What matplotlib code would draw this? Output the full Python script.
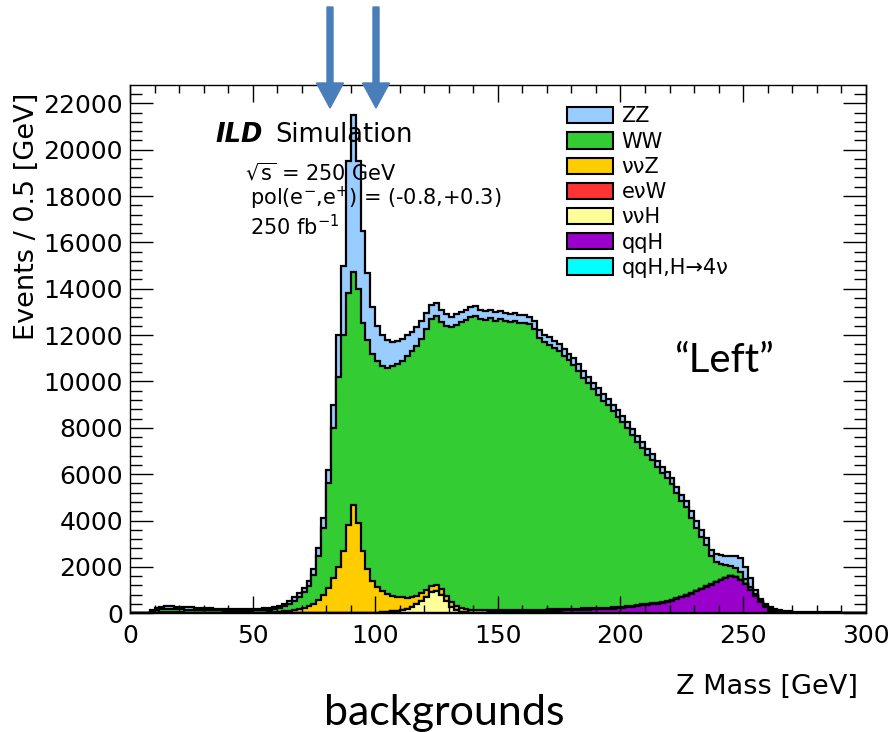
import numpy as np
import matplotlib
matplotlib.use("Agg")
import matplotlib.pyplot as plt
from matplotlib.patches import Patch, FancyArrow
from matplotlib.ticker import MultipleLocator

# ---------------- data (events per 2 GeV bin) ----------------
bin_edges = np.arange(0, 302, 2)  # Z mass bins 0..300 GeV

zz = [0, 0, 0, 0, 50, 90, 110, 120, 115, 110,
      105, 100, 95, 90, 90, 85, 80, 80, 75, 75,
      70, 70, 70, 70, 70, 70, 75, 80, 90, 100,
      110, 120, 130, 140, 160, 180, 200, 250, 320, 420,
      600, 1000, 1800, 3000, 5700, 6800, 5500, 4000, 2900, 2000,
      1500, 1350, 1200, 1050, 1000, 950, 900, 850, 800, 750,
      700, 620, 560, 520, 500, 470, 450, 440, 430, 420,
      410, 400, 390, 380, 370, 360, 355, 350, 345, 340,
      335, 330, 325, 320, 315, 310, 305, 300, 300, 295,
      290, 290, 285, 285, 280, 280, 275, 275, 270, 270,
      265, 265, 260, 260, 255, 255, 250, 250, 250, 250,
      255, 260, 270, 280, 290, 300, 300, 300, 300, 330,
      370, 400, 430, 500, 620, 520, 380, 180, 90, 90,
      110, 90, 70, 55, 45, 40, 36, 33, 30, 28,
      26, 24, 22, 20, 18, 17, 16, 15, 14, 13]

ww = [0, 0, 0, 0, 60, 115, 145, 150, 145, 145,
      130, 130, 125, 120, 115, 110, 105, 100, 100, 95,
      95, 90, 90, 90, 95, 95, 100, 105, 115, 135,
      160, 220, 310, 420, 530, 680, 880, 1230, 1900, 2880,
      4500, 6500, 8200, 9300, 10000, 10050, 10100, 9800, 9900, 9800,
      9780, 9710, 9760, 9890, 10040, 10210, 10420, 10600, 10790, 10980,
      11230, 11500, 11630, 11540, 11650, 11840, 12140, 12335, 12490, 12620,
      12690, 12555, 12520, 12580, 12490, 12555, 12460, 12410, 12465, 12365,
      12370, 12320, 12120, 11720, 11525, 11420, 11275, 11125, 10920, 10720,
      10510, 10255, 9955, 9695, 9445, 9190, 8935, 8730, 8480, 8220,
      7965, 7690, 7365, 7035, 6765, 6435, 6155, 5840, 5565, 5335,
      5010, 4540, 4110, 3780, 3230, 2735, 2235, 1775, 1185, 865,
      690, 540, 420, 380, 340, 220, 115, 55, 45, 35,
      80, 70, 60, 45, 35, 30, 26, 23, 22, 20,
      19, 18, 18, 18, 17, 16, 14, 13, 12, 11]

vvz = [0, 0, 0, 0, 10, 25, 35, 40, 40, 35,
       35, 30, 30, 30, 25, 25, 25, 20, 20, 20,
       20, 20, 20, 20, 20, 25, 25, 30, 35, 45,
       60, 80, 100, 130, 170, 220, 300, 420, 580, 800,
       1100, 1500, 2000, 2700, 3800, 4650, 3900, 2700, 1900, 1400,
       1100, 900, 780, 680, 600, 540, 480, 430, 380, 340,
       300, 280, 260, 240, 220, 200, 180, 160, 140, 130,
       120, 115, 110, 105, 100, 95, 90, 90, 85, 85,
       80, 80, 75, 75, 70, 70, 65, 65, 60, 60,
       55, 55, 50, 50, 50, 45, 45, 45, 40, 40,
       40, 35, 35, 35, 30, 30, 30, 25, 25, 25,
       25, 20, 20, 20, 20, 15, 15, 15, 15, 15,
       10, 10, 10, 10, 10, 10, 5, 5, 5, 5,
       0, 0, 0, 0, 0, 0, 0, 0, 0, 0,
       0, 0, 0, 0, 0, 0, 0, 0, 0, 0]

evw = [0, 0, 0, 0, 0, 0, 0, 0, 0, 0,
       0, 0, 0, 0, 0, 0, 0, 0, 0, 0,
       0, 0, 0, 0, 0, 0, 0, 0, 0, 0,
       0, 0, 0, 0, 0, 0, 0, 0, 0, 0,
       0, 0, 0, 0, 0, 0, 0, 0, 0, 0,
       0, 0, 0, 0, 0, 0, 0, 0, 0, 0,
       0, 0, 0, 0, 0, 0, 0, 0, 0, 0,
       0, 0, 0, 0, 0, 0, 0, 0, 0, 0,
       0, 0, 0, 0, 0, 0, 0, 0, 0, 0,
       10, 10, 10, 10, 10, 10, 10, 10, 10, 10,
       10, 10, 10, 10, 10, 10, 15, 15, 10, 10,
       10, 10, 10, 10, 10, 10, 10, 10, 10, 10,
       10, 10, 10, 10, 10, 0, 0, 0, 0, 0,
       0, 0, 0, 0, 0, 0, 0, 0, 0, 0,
       0, 0, 0, 0, 0, 0, 0, 0, 0, 0]

vvh = [0, 0, 0, 0, 0, 0, 0, 0, 0, 0,
       0, 0, 0, 0, 0, 0, 0, 0, 0, 0,
       0, 0, 0, 0, 0, 0, 0, 0, 0, 0,
       0, 0, 0, 0, 0, 0, 0, 0, 0, 0,
       0, 0, 0, 0, 0, 0, 0, 0, 0, 0,
       20, 40, 60, 80, 110, 150, 200, 270, 380, 530,
       720, 900, 950, 800, 530, 280, 120, 50, 20, 10,
       5, 0, 0, 0, 0, 0, 0, 0, 0, 0,
       0, 0, 0, 0, 0, 0, 0, 0, 0, 0,
       0, 0, 0, 0, 0, 0, 0, 0, 0, 0,
       0, 0, 0, 0, 0, 0, 0, 0, 0, 0,
       0, 0, 0, 0, 0, 0, 0, 0, 0, 0,
       0, 0, 0, 0, 0, 0, 0, 0, 0, 0,
       0, 0, 0, 0, 0, 0, 0, 0, 0, 0,
       0, 0, 0, 0, 0, 0, 0, 0, 0, 0]

qqh = [0, 0, 0, 0, 0, 0, 0, 0, 0, 0,
       0, 0, 0, 0, 0, 0, 0, 0, 0, 0,
       0, 0, 0, 0, 0, 0, 0, 0, 0, 0,
       0, 0, 0, 0, 0, 0, 0, 0, 0, 0,
       0, 0, 0, 0, 0, 0, 0, 0, 0, 0,
       0, 0, 0, 0, 0, 0, 0, 0, 0, 0,
       0, 0, 0, 0, 0, 10, 12, 15, 18, 20,
       25, 30, 32, 35, 38, 40, 45, 50, 55, 60,
       65, 70, 80, 85, 90, 100, 105, 110, 120, 125,
       135, 140, 150, 160, 165, 175, 185, 190, 200, 210,
       220, 250, 280, 310, 340, 370, 400, 420, 450, 480,
       550, 620, 690, 760, 850, 940, 1040, 1150, 1240, 1330,
       1420, 1520, 1600, 1560, 1420, 1250, 1000, 760, 480, 270,
       90, 20, 0, 0, 0, 0, 0, 0, 0, 0,
       0, 0, 0, 0, 0, 0, 0, 0, 0, 0]

qqh_h4nu = [0, 0, 0, 0, 0, 0, 0, 0, 0, 0,
            0, 0, 0, 0, 0, 0, 0, 0, 0, 0,
            0, 0, 0, 0, 0, 0, 0, 0, 0, 0,
            0, 0, 0, 0, 0, 0, 0, 0, 0, 0,
            0, 0, 1, 2, 3, 3, 2, 1, 0, 0,
            0, 0, 0, 0, 0, 0, 0, 0, 0, 0,
            0, 0, 0, 0, 0, 0, 0, 0, 0, 0,
            0, 0, 0, 0, 0, 0, 0, 0, 0, 0,
            0, 0, 0, 0, 0, 0, 0, 0, 0, 0,
            0, 0, 0, 0, 0, 0, 0, 0, 0, 0,
            0, 0, 0, 0, 0, 0, 0, 0, 0, 0,
            0, 0, 0, 0, 0, 0, 0, 0, 0, 0,
            0, 0, 0, 0, 0, 0, 0, 0, 0, 0,
            0, 0, 0, 0, 0, 0, 0, 0, 0, 0,
            0, 0, 0, 0, 0, 0, 0, 0, 0, 0]

# stack order: bottom -> top
labels = ["qqH,H\u21924\u03bd", "qqH", "\u03bd\u03bdH", "e\u03bdW", "\u03bd\u03bdZ", "WW", "ZZ"]
series = [qqh_h4nu, qqh, vvh, evw, vvz, ww, zz]
colors = ["#00FFFF", "#9900CC", "#FFFF99", "#FF3333", "#FFCC00", "#33CC33", "#99CCFF"]

# ---------------- figure ----------------
plt.rcParams["font.family"] = ["DejaVu Sans"]
plt.rcParams["mathtext.fontset"] = "dejavusans"

fig = plt.figure(figsize=(8.9, 7.32), dpi=100)
ax = fig.add_axes([0.1461, 0.1622, 0.8266, 0.7217])

cum = np.cumsum(np.array(series, dtype=float), axis=0)
for i in reversed(range(len(series))):
    ax.stairs(cum[i], bin_edges, baseline=0, fill=True,
              facecolor=colors[i], edgecolor="black", linewidth=1.6,
              joinstyle="miter")

ax.set_xlim(0, 300)
ax.set_ylim(0, 22790)
ax.xaxis.set_major_locator(MultipleLocator(50))
ax.xaxis.set_minor_locator(MultipleLocator(10))
ax.yaxis.set_major_locator(MultipleLocator(2000))
ax.yaxis.set_minor_locator(MultipleLocator(400))
ax.tick_params(axis="both", which="both", direction="in", top=True, right=True,
               width=1.0, colors="black")
ax.tick_params(axis="x", which="major", length=12, labelsize=18, pad=8)
ax.tick_params(axis="x", which="minor", length=6)
ax.tick_params(axis="y", which="major", length=16.5, labelsize=18, pad=5)
ax.tick_params(axis="y", which="minor", length=8.5)
for sp in ax.spines.values():
    sp.set_linewidth(1.0)

ax.set_ylabel("Events / 0.5 [GeV]", fontsize=19.5, loc="top")
ax.yaxis.set_label_coords(-0.122, 0.985)
ax.set_xlabel("Z Mass [GeV]", fontsize=19.5, loc="right")
ax.xaxis.set_label_coords(0.9895, -0.114)

# legend (top to bottom as in the reference)
handles = [Patch(facecolor=colors[i], edgecolor="black", linewidth=1.5, label=labels[i])
           for i in reversed(range(len(series)))]
ax.legend(handles=handles, loc="upper left", bbox_to_anchor=(0.5936, 0.9593),
          frameon=False, fontsize=15, handlelength=2.2, handleheight=0.82,
          handletextpad=0.43, labelspacing=0.25, borderpad=0, borderaxespad=0)

# ILD labels
ax.text(0.1155, 0.892, "ILD", fontsize=18.5, fontweight="bold", fontstyle="italic",
        transform=ax.transAxes, va="baseline")
ax.text(0.197, 0.892, "Simulation", fontsize=18.5, transform=ax.transAxes, va="baseline")
ax.text(0.156, 0.820, r"$\sqrt{\mathrm{s}}$ = 250 GeV", fontsize=15,
        transform=ax.transAxes, va="baseline")
ax.text(0.163, 0.773, r"pol(e$^{-}$,e$^{+}$) = (-0.8,+0.3)", fontsize=15,
        transform=ax.transAxes, va="baseline")
ax.text(0.163, 0.716, r"250 fb$^{-1}$", fontsize=15, transform=ax.transAxes, va="baseline")

# slide annotations
fig.text(724 / 890, 360 / 732, "\u201cLeft\u201d", family=["Lato", "DejaVu Sans"],
         fontsize=29, ha="center", va="baseline")
fig.text(444 / 890, 7 / 732, "backgrounds", family=["Lato", "DejaVu Sans"],
         fontsize=31, ha="center", va="baseline")

arrow_color = "#4A7EBB"
for xpix in (330, 376):
    fig.add_artist(FancyArrow(xpix / 890, 725 / 732, 0, -101 / 732,
                              width=6 / 890, head_width=27 / 890, head_length=25 / 732,
                              length_includes_head=True, color=arrow_color,
                              transform=fig.transFigure, zorder=5))

fig.savefig("out.png", dpi=100)
